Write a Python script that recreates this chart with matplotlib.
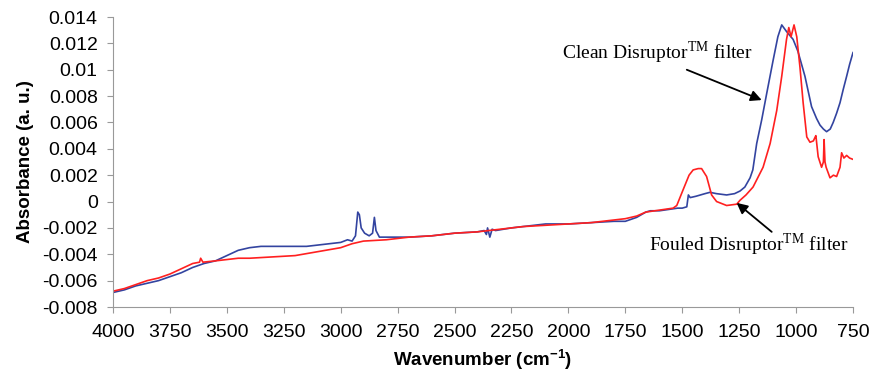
import matplotlib
matplotlib.use("Agg")
import matplotlib.pyplot as plt

clean_wn = [4000, 3950, 3900, 3850, 3800, 3750, 3700, 3650, 3600, 3550, 3500, 3450, 3400, 3350,
            3300, 3250, 3200, 3150, 3100, 3050, 3000, 2970, 2950, 2935, 2925, 2918, 2910, 2895,
            2875, 2860, 2852, 2845, 2830, 2800, 2700, 2600, 2500, 2400, 2370, 2360, 2355, 2345,
            2335, 2320, 2250, 2100, 2000, 1900, 1800, 1750, 1700, 1660, 1640, 1600, 1560, 1520,
            1500, 1480, 1473, 1465, 1440, 1400, 1378, 1350, 1305, 1270, 1246, 1225, 1202, 1190,
            1173, 1151, 1129, 1101, 1080, 1063, 1042, 1013, 992, 961, 932, 910, 895, 880, 866,
            850, 837, 822, 807, 793, 778, 765, 750]
clean_abs = [-0.0069, -0.0067, -0.0064, -0.0062, -0.0060, -0.0057, -0.0054, -0.0050, -0.0047,
             -0.0045, -0.0041, -0.0037, -0.0035, -0.0034, -0.0034, -0.0034, -0.0034, -0.0034,
             -0.0033, -0.0032, -0.0031, -0.0029, -0.0030, -0.0026, -0.0008, -0.0010, -0.0020,
             -0.0024, -0.0026, -0.0024, -0.0012, -0.0022, -0.0027, -0.0027, -0.0027, -0.0026,
             -0.0024, -0.0023, -0.0022, -0.0025, -0.0020, -0.0027, -0.0021, -0.0022, -0.0020,
             -0.0017, -0.0017, -0.0016, -0.0015, -0.0015, -0.0012, -0.0008, -0.0007, -0.0007,
             -0.0006, -0.0005, -0.0005, -0.0004, 0.0005, 0.0003, 0.0004, 0.0006, 0.0007, 0.0006,
             0.0005, 0.0006, 0.0008, 0.0011, 0.0018, 0.0024, 0.0044, 0.0062, 0.0082, 0.0107,
             0.0125, 0.0134, 0.0129, 0.0123, 0.0114, 0.0095, 0.0072, 0.0063, 0.0058, 0.0055,
             0.0053, 0.0055, 0.0060, 0.0067, 0.0075, 0.0085, 0.0095, 0.0104, 0.0113]

fouled_wn = [4000, 3950, 3900, 3850, 3800, 3750, 3700, 3650, 3620, 3615, 3605, 3550, 3500, 3450,
             3400, 3300, 3200, 3100, 3000, 2950, 2900, 2800, 2700, 2600, 2500, 2400, 2300, 2200,
             2100, 2000, 1900, 1800, 1750, 1700, 1660, 1620, 1580, 1540, 1524, 1496, 1470, 1452,
             1430, 1415, 1393, 1371, 1349, 1305, 1261, 1246, 1220, 1189, 1145, 1114, 1085, 1063,
             1042, 1032, 1022, 1009, 997, 983, 969, 953, 939, 924, 916, 913, 908, 903, 888, 880,
             877, 873, 868, 851, 836, 822, 807, 800, 790, 778, 765, 750]
fouled_abs = [-0.0068, -0.0066, -0.0063, -0.0060, -0.0058, -0.0055, -0.0051, -0.0047, -0.0046,
              -0.0043, -0.0046, -0.0045, -0.0044, -0.0043, -0.0043, -0.0042, -0.0041, -0.0038,
              -0.0035, -0.0032, -0.0030, -0.0029, -0.0027, -0.0026, -0.0024, -0.0023, -0.0021,
              -0.0019, -0.0018, -0.0017, -0.0016, -0.0014, -0.0013, -0.0011, -0.0008, -0.0007,
              -0.0006, -0.0005, -0.0003, 0.0009, 0.0020, 0.0024, 0.0025, 0.0025, 0.0019, 0.0005,
              0.0000, -0.0003, -0.0002, 0.0001, 0.0005, 0.0011, 0.0026, 0.0044, 0.0069, 0.0095,
              0.0123, 0.0132, 0.0125, 0.0134, 0.0125, 0.0102, 0.0075, 0.0049, 0.0045, 0.0046,
              0.0049, 0.0050, 0.0042, 0.0034, 0.0026, 0.0030, 0.0047, 0.0030, 0.0026, 0.0018,
              0.0020, 0.0019, 0.0026, 0.0037, 0.0033, 0.0035, 0.0033, 0.0032]

x_ticks = [4000, 3750, 3500, 3250, 3000, 2750, 2500, 2250, 2000, 1750, 1500, 1250, 1000, 750]
y_ticks = [-0.008, -0.006, -0.004, -0.002, 0, 0.002, 0.004, 0.006, 0.008, 0.01, 0.012, 0.014]
y_tick_labels = ["-0.008", "-0.006", "-0.004", "-0.002", "0", "0.002", "0.004", "0.006",
                 "0.008", "0.01", "0.012", "0.014"]

plt.rcParams['font.family'] = ['Liberation Sans', 'DejaVu Sans']
plt.rcParams['mathtext.fontset'] = 'custom'
plt.rcParams['mathtext.rm'] = 'Liberation Serif'
plt.rcParams['mathtext.bf'] = 'Liberation Sans:bold'

fig = plt.figure(figsize=(8.74, 3.78), dpi=100)
ax = fig.add_axes([113 / 874, 1 - 307 / 378, 740 / 874, 290 / 378])

ax.plot(clean_wn, clean_abs, color='#3344A0', lw=1.2)
ax.plot(fouled_wn, fouled_abs, color='#FF2020', lw=1.2)

ax.set_xlim(4000, 750)
ax.set_ylim(-0.008, 0.014)
ax.set_xticks(x_ticks)
ax.set_xticklabels([str(t) for t in x_ticks])
ax.set_yticks(y_ticks)
ax.set_yticklabels(y_tick_labels)
ax.tick_params(axis='both', labelsize=14, color='#999999', length=4, direction='out')
ax.tick_params(axis='x', pad=8)
ax.tick_params(axis='y', pad=7)
for s in ['top', 'right']:
    ax.spines[s].set_visible(False)
for s in ['left', 'bottom']:
    ax.spines[s].set_color('#999999')

ax.set_xlabel(r"Wavenumber (cm$^{\mathbf{-1}}$)", fontsize=13.5, fontweight='bold', labelpad=5)
ax.set_ylabel("Absorbance (a. u.)", fontsize=13.5, fontweight='bold', labelpad=6)

serif = ['Liberation Serif', 'DejaVu Serif']
arrow = dict(arrowstyle='-|>', color='black', lw=1.3, mutation_scale=16, shrinkA=0, shrinkB=0)
ax.text(1609, 0.0113, r"Clean Disruptor$^{\mathrm{TM}}$ filter", ha='center', va='center',
        fontsize=14, family=serif)
ax.annotate("", xy=(1151, 0.0077), xytext=(1480, 0.0100), arrowprops=arrow)
ax.text(1207, -0.0033, r"Fouled Disruptor$^{\mathrm{TM}}$ filter", ha='center', va='center',
        fontsize=14, family=serif)
ax.annotate("", xy=(1261, -0.0001), xytext=(1107, -0.0023), arrowprops=arrow)

fig.savefig("out.png", dpi=100)
